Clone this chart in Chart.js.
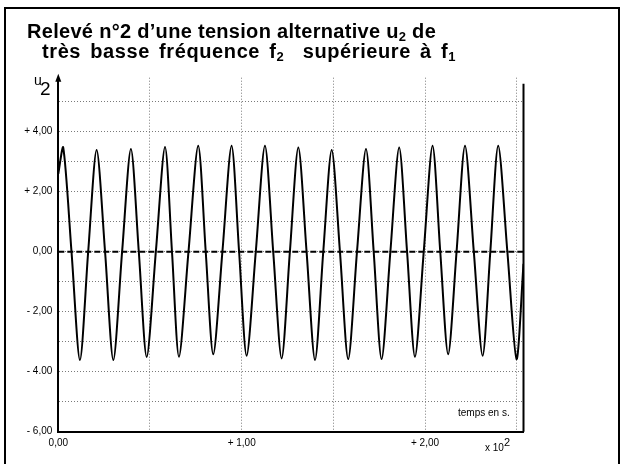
<!DOCTYPE html>
<html>
<head>
<meta charset="utf-8">
<script src="https://cdn.jsdelivr.net/npm/chart.js@4.4.0/dist/chart.umd.min.js"></script>
<style>
  body { margin: 0; background: #fff; font-family: Arial, 'Liberation Sans', sans-serif; color: #000; }
  #wrap { position: relative; width: 623px; height: 464px; overflow: hidden; }
  #frame { position: absolute; left: 4px; top: 7px; width: 612px; height: 470px; border: 2px solid #000; }
  canvas { position: absolute; left: 0; top: 0; }
  .txt { position: absolute; white-space: nowrap; line-height: 20px; }
  .title { font-weight: bold; font-size: 20px; letter-spacing: 0.3px; }
  .sub { font-size: 13px; vertical-align: -3px; }
</style>
</head>
<body>
<div id="wrap">
  <div id="frame"></div>
  <canvas id="chart" width="623" height="464"></canvas>
  <div class="txt title" style="left:27px; top:21px;">Relevé n°2 d’une tension alternative u<span class="sub">2</span> de</div>
  <div class="txt title" style="left:42px; top:41px; letter-spacing:0.6px; word-spacing:3px;">très basse fréquence f<span class="sub">2</span>&nbsp;&nbsp;supérieure à f<span class="sub">1</span></div>
  <div class="txt" style="left:34px; top:70px; font-size:14px;">u</div>
  <div class="txt" style="left:40px; top:79px; font-size:19px;">2</div>
  <div class="txt" style="left:458px; top:403px; font-size:10px;">temps en s.</div>
  <div class="txt" style="left:485px; top:432px; font-size:10px;">x 10<span style="font-size:11px; vertical-align:5px;">2</span></div>
</div>
<script>
// time in units of 10^2 s, tension u2 in V (start, peaks, zero crossings, troughs)
const timeValues = [
  0, 0.027, 0.072, 0.118, 0.163, 0.209, 0.255, 0.300, 0.348, 0.396, 0.439, 0.482, 0.532, 0.582,
  0.620, 0.658, 0.710, 0.763, 0.804, 0.845, 0.895, 0.945, 0.986, 1.027, 1.077, 1.127, 1.172, 1.218,
  1.263, 1.309, 1.354, 1.400, 1.445, 1.491, 1.536, 1.581, 1.629, 1.678, 1.720, 1.763, 1.811, 1.859,
  1.902, 1.945, 1.993, 2.041, 2.083, 2.126, 2.172, 2.218, 2.266, 2.314, 2.356, 2.399, 2.449, 2.499, 2.537
];
const u2Values = [
  2.6, 3.47, 0, -3.61, 0, 3.39, 0, -3.61, 0, 3.42, 0, -3.51, 0, 3.49,
  0, -3.50, 0, 3.53, 0, -3.42, 0, 3.53, 0, -3.47, 0, 3.53, 0, -3.56,
  0, 3.47, 0, -3.61, 0, 3.39, 0, -3.58, 0, 3.42, 0, -3.58, 0, 3.47,
  0, -3.50, 0, 3.53, 0, -3.42, 0, 3.53, 0, -3.47, 0, 3.53, 0, -3.58, -0.4
];

const xMin = 0;
const xMax = 2.537;
const yMin = -6;
const yMax = 5.8;

const xTickValues = [0, 1, 2];
const xTickLabels = ['0,00', '+ 1,00', '+ 2,00'];
const yTickValues = [-6, -4, -2, 0, 2, 4];
const yTickLabels = ['- 6,00', '- 4.00', '- 2,00', '0,00', '+ 2,00', '+ 4,00'];

function labelFor(values, labels, v) {
  const i = values.findIndex(t => Math.abs(t - v) < 1e-6);
  return i >= 0 ? labels[i] : '';
}

// right border of the plot and the arrow on top of the u2 axis
const frameLines = {
  id: 'frameLines',
  afterDraw(chart) {
    const { ctx, chartArea, scales } = chart;
    ctx.save();
    ctx.strokeStyle = '#000';
    ctx.lineWidth = 2;
    ctx.beginPath();
    ctx.moveTo(chartArea.right, chartArea.top + 6);
    ctx.lineTo(chartArea.right, chartArea.bottom);
    ctx.stroke();
    const x = scales.x.getPixelForValue(xMin);
    const y = chartArea.top;
    ctx.fillStyle = '#000';
    ctx.beginPath();
    ctx.moveTo(x, y - 4);
    ctx.lineTo(x - 3, y + 4);
    ctx.lineTo(x + 3, y + 4);
    ctx.closePath();
    ctx.fill();
    ctx.restore();
  }
};

const tickFont = { family: 'Arial, "Liberation Sans", sans-serif', size: 10 };

new Chart(document.getElementById('chart').getContext('2d'), {
  type: 'line',
  data: {
    datasets: [
      {
        label: 'u2',
        data: timeValues.map((t, i) => ({ x: t, y: u2Values[i] })),
        borderColor: '#000',
        borderWidth: 2,
        pointRadius: 0,
        tension: 0.28
      },
      {
        label: 'zero',
        data: [{ x: xMin, y: 0 }, { x: xMax, y: 0 }],
        borderColor: '#000',
        borderWidth: 2,
        borderDash: [6, 3],
        pointRadius: 0
      }
    ]
  },
  options: {
    responsive: false,
    animation: false,
    layout: { padding: { top: 77.7, right: 99.5, left: 0, bottom: 0 } },
    plugins: { legend: { display: false }, tooltip: { enabled: false } },
    scales: {
      x: {
        type: 'linear',
        min: xMin,
        max: xMax,
        afterFit(s) { s.height = 32.3; },
        ticks: {
          stepSize: 0.5,
          includeBounds: false,
          autoSkip: false,
          maxRotation: 0,
          padding: 6,
          color: '#000',
          font: tickFont,
          callback: v => labelFor(xTickValues, xTickLabels, v)
        },
        grid: { color: '#7a7a7a', lineWidth: 1, drawTicks: false },
        border: { color: '#000', width: 2, dash: [1, 2] }
      },
      y: {
        type: 'linear',
        min: yMin,
        max: yMax,
        afterFit(s) { s.width = 58.3; },
        ticks: {
          stepSize: 1,
          includeBounds: false,
          autoSkip: false,
          padding: 6,
          color: '#000',
          font: tickFont,
          callback: v => labelFor(yTickValues, yTickLabels, v)
        },
        grid: { color: '#7a7a7a', lineWidth: 1, drawTicks: false },
        border: { color: '#000', width: 2, dash: [1, 2] }
      }
    }
  },
  plugins: [frameLines]
});
</script>
</body>
</html>
